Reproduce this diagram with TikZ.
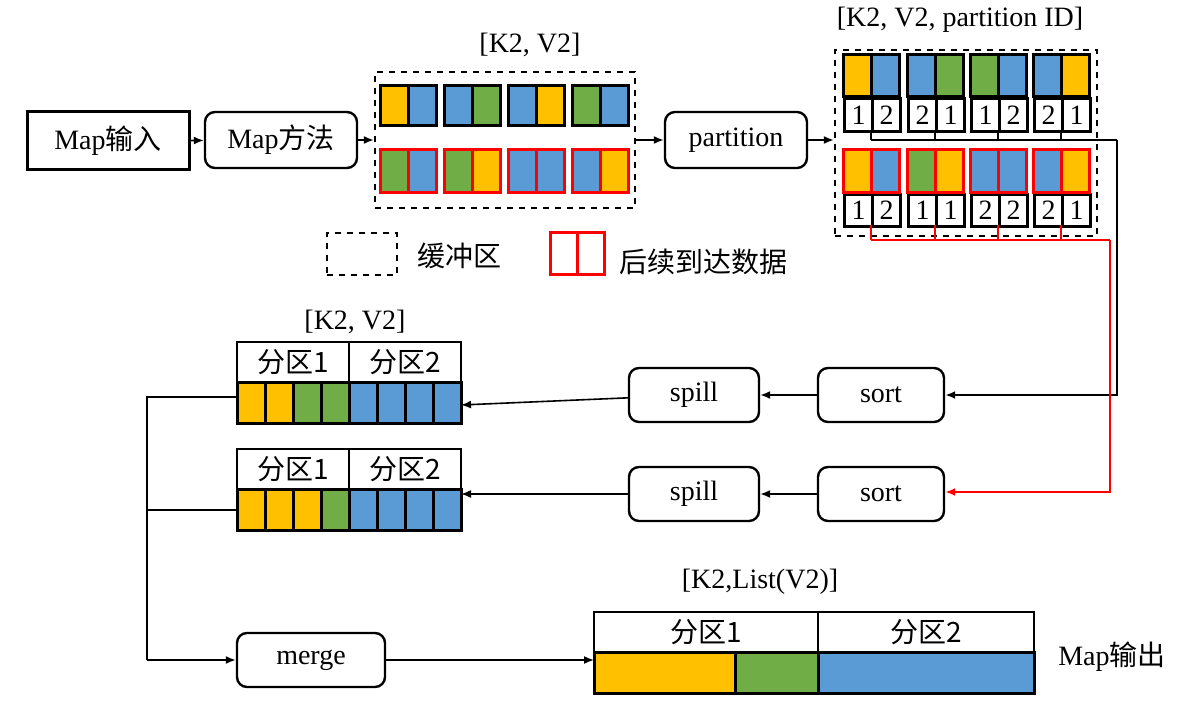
\documentclass[tikz,border=0pt]{standalone}
\usepackage{fontspec}
\setmainfont{Liberation Serif}
\newfontfamily\cjk{Noto Sans CJK SC}
\usetikzlibrary{arrows.meta}
\definecolor{cy}{HTML}{FFC000}
\definecolor{cb}{HTML}{5B9BD5}
\definecolor{cg}{HTML}{70AD47}
\definecolor{cr}{HTML}{FF0000}
\begin{document}
\begin{tikzpicture}[x=0.5pt,y=-0.5pt,
 box/.style={draw,line width=1.2pt,rounded corners=5pt,font=\fontsize{14}{16}\selectfont},
 arr/.style={-{Latex[length=5pt,width=4pt]},line width=0.8pt},
 cellk/.style={draw=black,line width=1.5pt},
 cellr/.style={draw=cr,line width=1.5pt},
 num/.style={draw,line width=1.5pt,fill=white,font=\fontsize{14}{14}\selectfont,inner sep=0pt},
 lbl/.style={font=\fontsize{14}{16}\selectfont}]
\useasboundingbox (0,0) rectangle (1201,717);
% left boxes
\node[draw,line width=1.5pt,minimum width=81pt,minimum height=29pt,font=\fontsize{14}{16}\selectfont] (in) at (108,141) {Map\cjk{输入}};
\node[box,minimum width=76pt,minimum height=28pt] (mm) at (281,140) {Map\cjk{方法}};
\draw[arr] (in) -- (mm);
% buffer 1
\node[draw,dashed,line width=1.2pt,minimum width=130pt,minimum height=68pt] (buf1) at (505,140) {};
\node[lbl] (l1) at (530,45) {[K2, V2]};
\draw[arr] (mm) -- (buf1);
\foreach \x/\a/\b in {380/cy/cb,444/cb/cg,508/cb/cy,572/cg/cb}{
  \fill[\a] (\x,86) rectangle +(28,40); \fill[\b] (\x+28,86) rectangle +(28,40);
  \draw[cellk] (\x,86) rectangle +(28,40); \draw[cellk] (\x+28,86) rectangle +(28,40);}
\foreach \x/\a/\b in {380/cg/cb,444/cg/cy,508/cb/cb,572/cb/cy}{
  \fill[\a] (\x,150) rectangle +(28,43); \fill[\b] (\x+28,150) rectangle +(28,43);
  \draw[cellr] (\x,150) rectangle +(28,43); \draw[cellr] (\x+28,150) rectangle +(28,43);}
\node[box,minimum width=71pt,minimum height=28pt] (part) at (736,140) {partition};
\draw[arr] (buf1) -- (part);
% buffer 2
\node[draw,dashed,line width=1.2pt,minimum width=131pt,minimum height=93pt] (buf2) at (966,143) {};
\node[lbl] (l2) at (960,20) {[K2, V2, partition ID]};
\draw[arr] (part) -- (buf2.west|-part);
\foreach \x/\a/\b/\m/\n in {843/cy/cb/1/2,907/cb/cg/2/1,970/cg/cb/1/2,1033/cb/cy/2/1}{
  \fill[\a] (\x,55) rectangle +(28,42); \fill[\b] (\x+28,55) rectangle +(28,42);
  \draw[cellk] (\x,55) rectangle +(28,42); \draw[cellk] (\x+28,55) rectangle +(28,42);
  \node[num,minimum width=14pt,minimum height=16.5pt,anchor=north west] at (\x,97) {\m};
  \node[num,minimum width=14pt,minimum height=16.5pt,anchor=north west] at (\x+28,97) {\n};
  \draw[line width=1pt] (\x+28,130) -- (\x+28,140);}
\foreach \x/\a/\b/\m/\n in {843/cy/cb/1/2,907/cg/cy/1/1,970/cb/cb/2/2,1033/cb/cy/2/1}{
  \node[num,minimum width=14pt,minimum height=16pt,anchor=north west] at (\x,193) {\m};
  \node[num,minimum width=14pt,minimum height=16pt,anchor=north west] at (\x+28,193) {\n};
  \fill[\a] (\x,150) rectangle +(28,43); \fill[\b] (\x+28,150) rectangle +(28,43);
  \draw[cellr] (\x,150) rectangle +(28,43); \draw[cellr] (\x+28,150) rectangle +(28,43);
  \draw[cr,line width=1pt] (\x+28,225) -- (\x+28,240);}
\draw[line width=1pt] (871,140) -- (1117,140);
\draw[cr,line width=1pt] (871,240) -- (1110,240);
% legend
\node[draw,dashed,line width=1.2pt,minimum width=35pt,minimum height=21pt] (lg1) at (362,254) {};
\node[lbl,anchor=west] (lt1) at (410,256) {\cjk{缓冲区}};
\draw[cellr] (550,233) rectangle (577,275); \draw[cellr] (577,233) rectangle (604,275);
\node[lbl,anchor=west] (lt2) at (612,262) {\cjk{后续到达数据}};
% sort / spill
\node[box,minimum width=63pt,minimum height=27pt] (sort1) at (881,395) {sort};
\node[box,minimum width=65pt,minimum height=27pt] (spill1) at (694,395) {spill};
\node[box,minimum width=63pt,minimum height=27pt] (sort2) at (881,494) {sort};
\node[box,minimum width=65pt,minimum height=27pt] (spill2) at (694,494) {spill};
\coordinate (c1) at (1117,395);
\draw[arr,line width=1pt] (1117,140) -- (c1) -- (sort1);
\draw[arr,cr,line width=1pt] (1110,240) -- (1110,492) -- (sort2.east|-0,492);
\draw[arr] (sort1) -- (spill1);
\draw[arr] (sort2) -- (spill2);
% blocks
\foreach \y/\cols/\t in {342/{cy,cy,cg,cg,cb,cb,cb,cb}/a,449/{cy,cy,cy,cg,cb,cb,cb,cb}/b}{
  \draw[line width=1.2pt] (237,\y) rectangle (349,\y+40) node[midway,lbl]{\cjk{分区}1};
  \draw[line width=1.2pt] (349,\y) rectangle (461,\y+40) node[midway,lbl]{\cjk{分区}2};
  \foreach \c [count=\i from 0] in \cols {
    \fill[\c] (237+28*\i,\y+40) rectangle +(28,41);
    \draw[line width=1.5pt] (237+28*\i,\y+40) rectangle +(28,41);}
}
\coordinate (b1) at (461,405);
\coordinate (b2) at (461,510);
\draw[arr] (spill1) -- (b1);
\draw[arr] (spill2.west) -- (461,494);
\node[lbl] (l3) at (355,322) {[K2, V2]};
% merge
\node[box,minimum width=74pt,minimum height=27pt] (merge) at (311,660) {merge};
\draw[line width=1pt] (237,397) -- (147,397) -- (147,660);
\draw[line width=1pt] (237,510) -- (147,510);
\draw[arr] (147,660) -- (merge);
% output
\node[lbl] (l4) at (760,582) {[K2,List(V2)]};
\draw[line width=1.2pt] (594,612) rectangle (818,652) node[midway,lbl]{\cjk{分区}1};
\draw[line width=1.2pt] (818,612) rectangle (1034,652) node[midway,lbl]{\cjk{分区}2};
\fill[cy] (594,652) rectangle (735,693); \fill[cg] (735,652) rectangle (818,693); \fill[cb] (818,652) rectangle (1034,693);
\draw[line width=1.5pt] (594,652) rectangle (735,693) (735,652) rectangle (818,693) (818,652) rectangle (1034,693);
\coordinate (o) at (594,660);
\draw[arr] (merge) -- (o);
\node[lbl] (mo) at (1112,657) {Map\cjk{输出}};
\end{tikzpicture}
\end{document}
